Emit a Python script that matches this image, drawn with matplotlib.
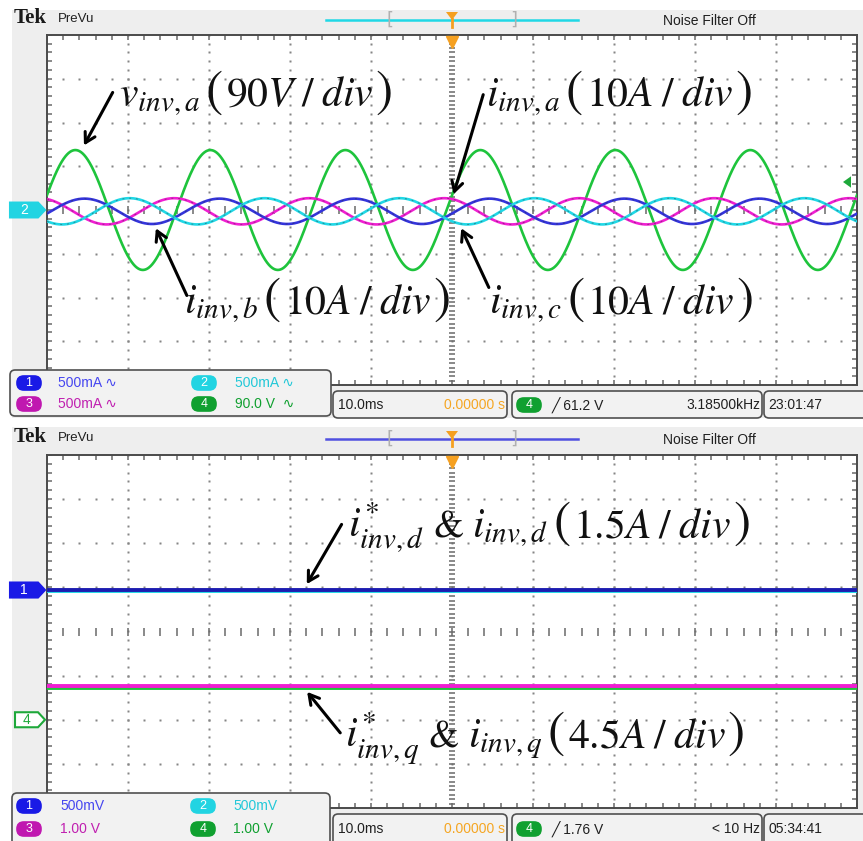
import numpy as np
import matplotlib
matplotlib.use('Agg')
import matplotlib.pyplot as plt
from matplotlib.patches import FancyBboxPatch, Rectangle, Polygon
from matplotlib.transforms import blended_transform_factory

plt.rcParams['mathtext.fontset'] = 'stix'
UI = ['Liberation Sans', 'DejaVu Sans']

freq_hz = 60.0                       # line frequency
t_span_ms = [-50, 50]                # 10.0 ms/div, 10 div
top_names = ['v_inv,a', 'i_inv,a', 'i_inv,b', 'i_inv,c']
top_colors = ['#1ec43c', '#f01ed2', '#3434dc', '#20d8e6']
top_amp_div = [1.37, 0.30, 0.29, 0.30]
top_peak_ms = [-46.5, -34.3, -28.7, -39.8]
top_offset_div = [0.0, -0.03, -0.03, -0.03]

bot_names = ['i*_inv,d', 'i_inv,d', 'i*_inv,q', 'i_inv,q']
bot_colors = ['#20d8e6', '#1c1cb0', '#1ec43c', '#f01ed2']
bot_level_div = [0.92, 0.94, -1.29, -1.24]

W, H = 863, 841
fig = plt.figure(figsize=(W / 100, H / 100), dpi=100)
rend = fig.canvas.get_renderer()


def fx(px):
    return px / W


def fy(py):
    return 1 - py / H


def box(x0, y0, x1, y1, fc='#f2f2f2', ec='#505050', lw=1.2, r=0.006, z=5):
    p = FancyBboxPatch((fx(x0), fy(y1)), fx(x1) - fx(x0), fy(y0) - fy(y1),
                       boxstyle='round,pad=0,rounding_size=%f' % r,
                       transform=fig.transFigure, fc=fc, ec=ec, lw=lw, zorder=z)
    fig.add_artist(p)


def badge(xc, yc, num, color, fill=True):
    box(xc - 12, yc - 7, xc + 12, yc + 7, fc=color if fill else 'white',
        ec=color, lw=1.2, r=0.008, z=6)
    fig.text(fx(xc), fy(yc), num, color='white' if fill else color, fontsize=9,
             ha='center', va='center', family=UI, zorder=7)


def ui(px, py, s, color='#202020', size=10, ha='left'):
    fig.text(fx(px), fy(py), s, color=color, fontsize=size, ha=ha, va='center',
             family=UI, zorder=7)


def label(px, base, pieces):
    # pieces of (text, size, gap after in px), laid out on one baseline
    x = px
    for s, size, gap in pieces:
        tt = fig.text(fx(x), fy(base), s, fontsize=size, color='#111111', ha='left',
                      va='baseline', family='STIXGeneral', zorder=8)
        x += tt.get_window_extent(renderer=rend).width + gap


def paren_label(px, base, head, body):
    label(px, base, [(head, 30, 5), ('(', 37, 3), (body, 30, 2), (')', 37, 0)])


# screenshot backgrounds
fig.add_artist(Rectangle((fx(12), fy(418)), fx(863) - fx(12), fy(10) - fy(418),
                         transform=fig.transFigure, fc='#eeeeee', ec='none', zorder=0))
fig.add_artist(Rectangle((fx(12), fy(841)), fx(863) - fx(12), fy(427) - fy(841),
                         transform=fig.transFigure, fc='#eeeeee', ec='none', zorder=0))


def header(y, line_color):
    fig.text(fx(14), fy(y), 'Tek', fontsize=15, fontweight='bold', family='Liberation Serif',
             va='center', ha='left', color='#1a1a1a')
    ui(58, y + 1, 'PreVu', size=9.5)
    fig.add_artist(plt.Line2D([fx(326), fx(578)], [fy(y + 2), fy(y + 2)],
                              transform=fig.transFigure, color=line_color, lw=1.8))
    for bx, s in [(390, '['), (514, ']')]:
        fig.text(fx(bx), fy(y + 2), s, color='#b0b0b0', fontsize=13, ha='center',
                 va='center', family='DejaVu Sans')
    tri = Polygon([[fx(446), fy(y - 6)], [fx(458), fy(y - 6)], [fx(452), fy(y + 2)]],
                  closed=True, transform=fig.transFigure, fc='#f5a020', ec='none', zorder=4)
    fig.add_artist(tri)
    fig.add_artist(plt.Line2D([fx(452), fx(452)], [fy(y + 1), fy(y + 9)],
                              transform=fig.transFigure, color='#f5a020', lw=2))
    ui(663, y + 3, 'Noise Filter Off', size=10)


def grid(ax):
    ax.set_xlim(t_span_ms)
    ax.set_ylim(-4, 4)
    ax.set_facecolor('white')
    ax.set_xticks([])
    ax.set_yticks([])
    for sp in ax.spines.values():
        sp.set_color('#4a4a4a')
        sp.set_linewidth(1.4)
    dot = dict(ls='none', marker='s', ms=1.6, color='#858585', mec='none', zorder=1)
    ys = np.arange(-4, 4.01, 0.2)
    xs = np.arange(-50, 50.01, 2)
    for xv in range(-40, 50, 10):
        if xv != 0:
            ax.plot(np.full(ys.size, xv), ys, **dot)
    for yv in range(-3, 4):
        if yv != 0:
            ax.plot(xs, np.full(xs.size, yv), **dot)
    tick = dict(ls='none', color='#6a6a6a', zorder=1, mew=1.1)
    ax.plot(np.zeros(81), np.linspace(-4, 4, 81), marker='_', ms=5, **tick)
    ax.plot(xs, np.zeros(xs.size), marker='|', ms=6, **tick)
    for yv in (-4, 4):
        ax.plot(xs, np.full(xs.size, yv), marker='|', ms=7, **tick)
    for xv in (-50, 50):
        ax.plot(np.full(ys.size, xv), ys, marker='_', ms=7, **tick)


def tag(ax, yv, num, color, fill=True, x0=10, x1=45):
    tr = blended_transform_factory(fig.transFigure, ax.transData)
    h = 0.17
    pts = [[fx(x0), yv - h], [fx(x1 - 7), yv - h], [fx(x1), yv],
           [fx(x1 - 7), yv + h], [fx(x0), yv + h]]
    ax.add_patch(Polygon(pts, closed=True, transform=tr, clip_on=False,
                         fc=color if fill else 'white', ec=color, lw=1.5, zorder=6))
    ax.text(fx((x0 + x1 - 7) / 2), yv, num, transform=tr, color='white' if fill else color,
            fontsize=10, ha='center', va='center', family=UI, zorder=7)


# ---------------- top screen ----------------
header(18, '#20d8e6')
ax1 = fig.add_axes([fx(47), fy(385), fx(857) - fx(47), fy(35) - fy(385)])
grid(ax1)
t = np.linspace(t_span_ms[0], t_span_ms[1], 3000)
for name, c, a, pk, off in zip(top_names, top_colors, top_amp_div, top_peak_ms, top_offset_div):
    y = off + a * np.cos(2 * np.pi * freq_hz * (t - pk) / 1000.0)
    ax1.plot(t, y, color=c, lw=1.9, zorder=3)
    if name != 'v_inv,a':
        ax1.plot(t, y, color='#303030', lw=0.7, alpha=0.45, dashes=(2, 5), zorder=3)
tag(ax1, 0.0, '2', '#22d4e2')
# trigger level marker (ch4)
tr1 = blended_transform_factory(fig.transFigure, ax1.transData)
ax1.add_patch(Polygon([[fx(843), 0.64], [fx(851), 0.77], [fx(851), 0.51]], closed=True,
                      transform=tr1, clip_on=False, fc='#1ea83a', ec='none', zorder=6))
ax1.plot([0], [3.85], marker='v', ms=8, color='#f5a020', clip_on=False, zorder=6)

# annotations
arr = dict(arrowstyle='->,head_length=0.7,head_width=0.4', color='black', lw=2.2)
paren_label(119, 106, r'$v_{inv,a}$', r'$90V\;/\;div$')
paren_label(486, 106, r'$i_{inv,a}$', r'$10A\;/\;div$')
paren_label(184, 313, r'$i_{inv,b}$', r'$10A\;/\;div$')
paren_label(489, 313, r'$i_{inv,c}$', r'$10A\;/\;div$')
ax1.annotate('', xy=(-45.6, 1.42), xytext=(fx(114), fy(90)), textcoords='figure fraction', arrowprops=arr)
ax1.annotate('', xy=(0.1, 0.30), xytext=(fx(484), fy(92)), textcoords='figure fraction', arrowprops=arr)
ax1.annotate('', xy=(-36.7, -0.36), xytext=(fx(188), fy(298)), textcoords='figure fraction', arrowprops=arr)
ax1.annotate('', xy=(1.0, -0.36), xytext=(fx(490), fy(290)), textcoords='figure fraction', arrowprops=arr)

# info boxes top
box(10, 370, 331, 416)
badge(29, 383, '1', '#1a1ae6')
ui(58, 383, '500mA \u223f', '#4646f0')
badge(204, 383, '2', '#22d4e2')
ui(235, 383, '500mA \u223f', '#22c8d8')
badge(29, 404, '3', '#c018b0')
ui(58, 404, '500mA \u223f', '#c020b0')
badge(204, 404, '4', '#10a030')
ui(235, 404, '90.0 V  \u223f', '#10a030')
box(333, 391, 507, 418)
ui(338, 405, '10.0ms')
ui(505, 405, '0.00000 s', '#f5a623', ha='right')
box(512, 391, 762, 418)
badge(529, 405, '4', '#10a030')
ui(552, 405, '\u2571 61.2 V')
ui(760, 405, '3.18500kHz', ha='right')
box(764, 391, 870, 418)
ui(768, 405, '23:01:47')

# ---------------- bottom screen ----------------
header(437, '#5050e0')
ax2 = fig.add_axes([fx(47), fy(808), fx(857) - fx(47), fy(455) - fy(808)])
grid(ax2)
for name, c, lv in zip(bot_names, bot_colors, bot_level_div):
    ax2.plot(t_span_ms, [lv, lv], color=c, lw=2.8, zorder=3)
tag(ax2, 0.94, '1', '#1a1ae6')
tag(ax2, -2.0, '4', '#1ea83a', fill=False, x0=15)
ax2.plot([0], [3.85], marker='v', ms=8, color='#f5a020', clip_on=False, zorder=6)

label(348, 537, [(r'$i^{*}_{inv,d}$', 30, 9), ('&', 28, 9), (r'$i_{inv,d}$', 30, 5),
                 ('(', 37, 3), (r'$1.5A\;/\;div$', 30, 2), (')', 37, 0)])
label(345, 747, [(r'$i^{*}_{inv,q}$', 30, 9), ('&', 28, 9), (r'$i_{inv,q}$', 30, 5),
                 ('(', 37, 3), (r'$4.5A\;/\;div$', 30, 2), (')', 37, 0)])
ax2.annotate('', xy=(-18.1, 1.02), xytext=(fx(343), fy(522)), textcoords='figure fraction', arrowprops=arr)
ax2.annotate('', xy=(-18.1, -1.32), xytext=(fx(342), fy(735)), textcoords='figure fraction', arrowprops=arr)

box(12, 793, 330, 850)
badge(29, 806, '1', '#1a1ae6')
ui(60, 806, '500mV', '#4646f0')
badge(203, 806, '2', '#22d4e2')
ui(233, 806, '500mV', '#22c8d8')
badge(29, 829, '3', '#c018b0')
ui(60, 829, '1.00 V', '#c020b0')
badge(203, 829, '4', '#10a030')
ui(233, 829, '1.00 V', '#10a030')
box(333, 814, 507, 850)
ui(338, 829, '10.0ms')
ui(505, 829, '0.00000 s', '#f5a623', ha='right')
box(512, 814, 762, 850)
badge(529, 829, '4', '#10a030')
ui(552, 829, '\u2571 1.76 V')
ui(760, 829, '< 10 Hz', ha='right')
box(764, 814, 870, 850)
ui(768, 829, '05:34:41')

fig.savefig('out.png', dpi=100, facecolor='white')
